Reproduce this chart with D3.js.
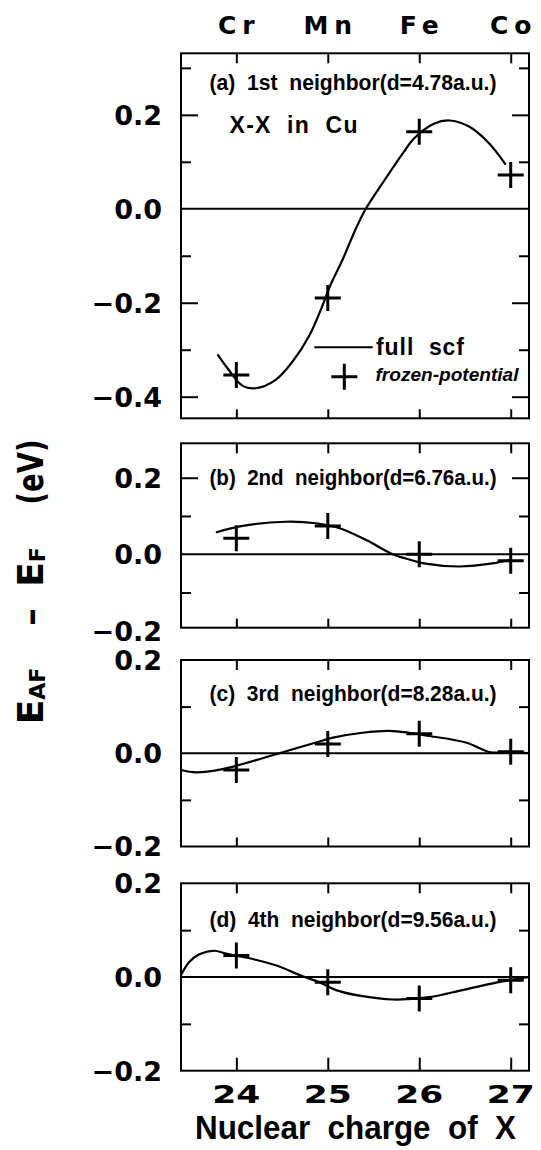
<!DOCTYPE html>
<html><head><meta charset="utf-8">
<script src="https://cdn.jsdelivr.net/npm/d3@7"></script>
<style>body{margin:0;background:#fff}svg{display:block}text{white-space:pre}</style>
</head><body><svg id="c" width="541" height="1150"></svg>
<script>
// ---------------- data ----------------
const elements = ["Cr", "Mn", "Fe", "Co"];
const nuclearCharge = [24, 25, 26, 27];
const xTickLabels = ["24", "25", "26", "27"];
const panelTitles = [
  "(a)  1st  neighbor(d=4.78a.u.)",
  "(b)  2nd  neighbor(d=6.76a.u.)",
  "(c)  3rd  neighbor(d=8.28a.u.)",
  "(d)  4th  neighbor(d=9.56a.u.)"
];
const yLabelValuesA = [0.2, 0.0, -0.2, -0.4];
const yLabelTextA = ["0.2", "0.0", "\u22120.2", "\u22120.4"];
const yLabelValuesBCD = [0.2, 0.0, -0.2];
const yLabelTextBCD = ["0.2", "0.0", "\u22120.2"];

// frozen-potential (crosses) at Z = 24..27
const frozenA = [-0.354, -0.190, 0.164, 0.072];
const frozenB = [0.042, 0.074, 0.000, -0.017];
const frozenC = [-0.036, 0.020, 0.042, 0.003];
const frozenD = [0.046, -0.011, -0.046, -0.007];

// full scf curves [Z, E]
const scfA = [[23.795,-0.310],[23.905,-0.340],[24.07,-0.377],[24.21,-0.382],[24.43,-0.364],[24.615,-0.325],[24.80,-0.269],[24.93,-0.212],[25.03,-0.162],[25.16,-0.109],[25.31,-0.041],[25.416,0.0],[25.60,0.055],[25.82,0.118],[25.945,0.150],[26.16,0.181],[26.33,0.188],[26.545,0.175],[26.76,0.140],[26.945,0.094]];
const scfB = [[23.776,0.057],[24.07,0.074],[24.54,0.085],[24.87,0.081],[25.13,0.068],[25.42,0.037],[25.71,0.0],[25.91,-0.015],[26.05,-0.024],[26.44,-0.032],[26.80,-0.024],[26.98,-0.015]];
const scfC = [[23.394,-0.036],[23.56,-0.041],[23.85,-0.034],[24.07,-0.023],[24.47,0.0],[24.87,0.023],[25.07,0.034],[25.38,0.044],[25.67,0.048],[25.89,0.044],[26.11,0.037],[26.51,0.023],[26.78,0.002],[26.98,0.003],[27.2,0.0]];
const scfD = [[23.394,0.004],[23.485,0.032],[23.59,0.048],[23.76,0.056],[23.885,0.050],[24.12,0.041],[24.43,0.025],[24.72,0.002],[24.905,-0.011],[25.09,-0.028],[25.38,-0.041],[25.71,-0.048],[26.11,-0.043],[26.47,-0.028],[26.84,-0.012],[26.98,-0.007],[27.2,0.0]];

// ---------------- layout ----------------
const svg = d3.select("#c");
const X0 = 181, X1 = 529;
const x = d3.scaleLinear().domain([23.395, 27.2]).range([X0, X1]);
const BOLD = "'DejaVu Sans', sans-serif";
const NARROW = "'Liberation Sans', Arial, sans-serif";

const panels = [
  {top: 53.3, bottom: 418.3, domain: [-0.446, 0.331], frozen: frozenA, scf: scfA, lv: yLabelValuesA, lt: yLabelTextA, titleY: 90},
  {top: 443.3, bottom: 627.7, domain: [-0.192, 0.290], frozen: frozenB, scf: scfB, lv: yLabelValuesBCD, lt: yLabelTextBCD, titleY: 485},
  {top: 660, bottom: 846.5, domain: [-0.2, 0.2], frozen: frozenC, scf: scfC, lv: yLabelValuesBCD, lt: yLabelTextBCD, titleY: 701},
  {top: 883.3, bottom: 1070.7, domain: [-0.2, 0.2], frozen: frozenD, scf: scfD, lv: yLabelValuesBCD, lt: yLabelTextBCD, titleY: 927}
];

const cross = "M-13,0H13M0,-13V13";

panels.forEach((p, i) => {
  const y = d3.scaleLinear().domain(p.domain).range([p.bottom, p.top]);
  const g = svg.append("g");
  const all = d3.range(-4, 4).map(k => k / 10).filter(v => v !== 0 && v > p.domain[0] + 0.01 && v < p.domain[1] - 0.01);
  const major = all.filter(v => Math.round(v * 10) % 2 === 0);
  const minor = all.filter(v => Math.round(v * 10) % 2 !== 0);

  const styleAxis = sel => { sel.select(".domain").remove(); sel.selectAll("line").attr("stroke", "#000").attr("stroke-width", 2); };
  g.append("g").attr("transform", `translate(${X0},0)`).call(d3.axisLeft(y).tickValues(major).tickSize(-17).tickFormat("")).call(styleAxis);
  g.append("g").attr("transform", `translate(${X0},0)`).call(d3.axisLeft(y).tickValues(minor).tickSize(-10).tickFormat("")).call(styleAxis);
  g.append("g").attr("transform", `translate(${X1},0)`).call(d3.axisRight(y).tickValues(major).tickSize(-17).tickFormat("")).call(styleAxis);
  g.append("g").attr("transform", `translate(${X1},0)`).call(d3.axisRight(y).tickValues(minor).tickSize(-10).tickFormat("")).call(styleAxis);
  g.append("g").attr("transform", `translate(0,${p.top})`).call(d3.axisTop(x).tickValues(nuclearCharge).tickSize(-10).tickFormat("")).call(styleAxis);
  g.append("g").attr("transform", `translate(0,${p.bottom})`).call(d3.axisBottom(x).tickValues(nuclearCharge).tickSize(i === 3 ? -13 : -9).tickFormat("")).call(styleAxis);

  // frame
  g.append("rect").attr("x", X0).attr("y", p.top).attr("width", X1 - X0).attr("height", p.bottom - p.top)
    .attr("fill", "none").attr("stroke", "#000").attr("stroke-width", 2);
  // zero line
  g.append("line").attr("x1", X0).attr("x2", X1).attr("y1", y(0)).attr("y2", y(0)).attr("stroke", "#000").attr("stroke-width", 2);

  // y labels
  g.selectAll(".yl").data(p.lv).enter().append("text")
    .attr("x", 162).attr("y", v => y(v)).attr("dy", "0.365em")
    .attr("text-anchor", "end").attr("font-family", BOLD).attr("font-weight", "bold").attr("font-size", 27)
    .text((v, k) => p.lt[k]);

  // title
  g.append("text").attr("x", 209.5).attr("y", p.titleY).attr("font-family", NARROW).attr("font-weight", "bold")
    .attr("font-size", 22).attr("textLength", 287).attr("lengthAdjust", "spacingAndGlyphs").text(panelTitles[i]);

  // full scf curve
  const line = d3.line().x(d => x(d[0])).y(d => y(d[1])).curve(d3.curveCatmullRom.alpha(0.5));
  g.append("path").attr("d", line(p.scf)).attr("fill", "none").attr("stroke", "#000").attr("stroke-width", 2.2);

  // frozen-potential crosses
  g.selectAll(".fp").data(p.frozen).enter().append("path")
    .attr("transform", (v, k) => `translate(${x(nuclearCharge[k])},${y(v)})`)
    .attr("d", cross).attr("stroke", "#000").attr("stroke-width", 3).attr("fill", "none");

  if (i === 0) {
    g.append("text").attr("x", 229.5).attr("y", 133).attr("font-family", NARROW).attr("font-weight", "bold")
      .attr("font-size", 23).attr("textLength", 128).attr("lengthAdjust", "spacing").text("X-X  in  Cu");
    // legend
    g.append("line").attr("x1", 314.3).attr("x2", 372.7).attr("y1", 347.3).attr("y2", 347.3).attr("stroke", "#000").attr("stroke-width", 2);
    g.append("text").attr("x", 376).attr("y", 355).attr("font-family", NARROW).attr("font-weight", "bold")
      .attr("font-size", 23).attr("textLength", 88).attr("lengthAdjust", "spacing").text("full  scf");
    g.append("path").attr("transform", "translate(344.3,376.7)").attr("d", cross).attr("stroke", "#000").attr("stroke-width", 3);
    g.append("text").attr("x", 375.5).attr("y", 381).attr("font-family", NARROW).attr("font-style", "italic").attr("font-weight", "bold")
      .attr("font-size", 19).attr("textLength", 143).attr("lengthAdjust", "spacingAndGlyphs").text("frozen-potential");
  }
});

// top element labels
svg.selectAll(".el").data(elements).enter().append("text")
  .attr("x", (d, k) => x(nuclearCharge[k])).attr("y", 34).attr("dx", 3)
  .attr("text-anchor", "middle").attr("font-family", BOLD).attr("font-weight", 900).attr("font-size", 25)
  .style("letter-spacing", "6px").text(d => d);

// bottom x tick labels
svg.selectAll(".xl").data(xTickLabels).enter().append("text")
  .attr("x", (d, k) => x(nuclearCharge[k])).attr("y", 1103)
  .attr("text-anchor", "middle").attr("font-family", BOLD).attr("font-weight", "bold").attr("font-size", 25)
  .attr("textLength", 48).attr("lengthAdjust", "spacingAndGlyphs").text(d => d);

// x axis title
svg.append("text").attr("x", 195).attr("y", 1139).attr("font-family", NARROW).attr("font-weight", "bold")
  .attr("font-size", 33).attr("textLength", 321).attr("lengthAdjust", "spacingAndGlyphs").text("Nuclear  charge  of  X");

// y axis title (rotated)
function rot(cy) { return svg.append("g").attr("transform", `translate(43,${cy}) rotate(-90)`); }
const t1 = rot(696).append("text").attr("text-anchor", "middle").attr("font-family", BOLD).attr("font-weight", "bold").attr("font-size", 36);
t1.append("tspan").text("E");
t1.append("tspan").attr("font-size", 22).attr("dy", 2).text("AF");
rot(617).append("text").attr("text-anchor", "middle").attr("font-family", BOLD).attr("font-weight", "bold").attr("font-size", 36).text("\u2013");
const t2 = rot(567).append("text").attr("text-anchor", "middle").attr("font-family", BOLD).attr("font-weight", "bold").attr("font-size", 36);
t2.append("tspan").text("E");
t2.append("tspan").attr("font-size", 22).attr("dy", 2).text("F");
rot(472).append("text").attr("text-anchor", "middle").attr("font-family", BOLD).attr("font-weight", "bold").attr("font-size", 36)
  .attr("textLength", 65).attr("lengthAdjust", "spacingAndGlyphs").text("(eV)");
</script></body></html>
